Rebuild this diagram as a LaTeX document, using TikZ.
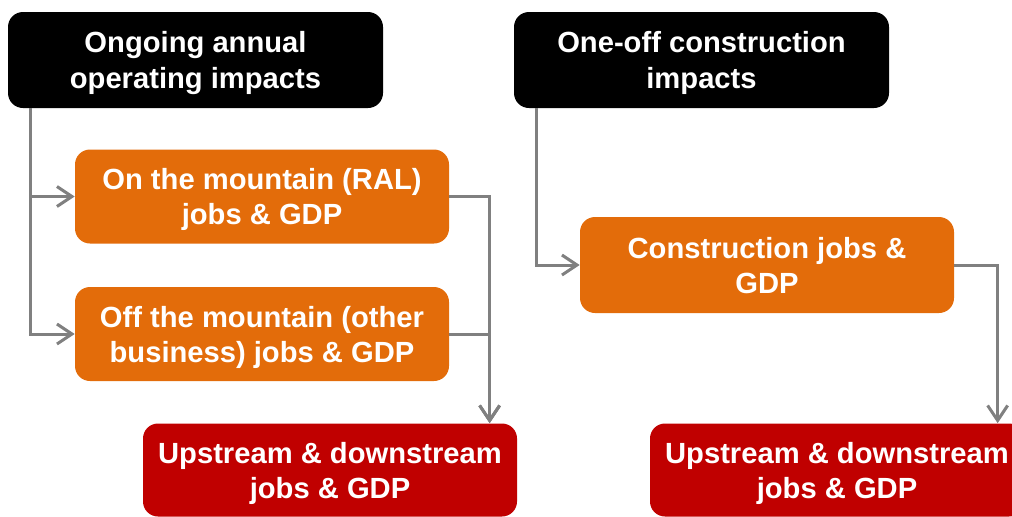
\documentclass[tikz,border=0pt]{standalone}
\usepackage{fontspec}
\setmainfont{Liberation Sans}
\usepackage{tikz}
\usetikzlibrary{arrows.meta,positioning,calc}
\definecolor{ImpactBlack}{RGB}{0,0,0}
\definecolor{ImpactOrange}{RGB}{227,108,10}
\definecolor{ImpactRed}{RGB}{192,0,0}
\definecolor{LinkGray}{RGB}{128,128,128}

\begin{document}
\begin{tikzpicture}[box/.style={rounded corners=0.3cm,text=white,align=center,
 minimum width=7.48cm,minimum height=1.88cm,text depth=0pt,
 execute at begin node={\rule{0pt}{5.9mm}},
 font=\fontsize{16.6}{20}\selectfont\bfseries},
 head/.style={box,fill=ImpactBlack,minimum width=7.5cm,minimum height=1.92cm},
 driver/.style={box,fill=ImpactOrange},
 flowon/.style={box,fill=ImpactRed,minimum height=1.86cm},
 link/.style={draw=LinkGray,line width=0.06cm,
 -{Straight Barb[length=0.3cm,width=0.4cm,line width=0.06cm]}}]
\useasboundingbox (0,0) rectangle (20.24,10.32);

% column headings
\node[head] (ongoing) at (3.91,9.12) {Ongoing annual\\operating impacts};
\node[head] (oneoff) at (14.03,9.12) {One-off construction\\impacts};

% direct impacts
\node[driver] (onmtn) at (5.24,6.39) {On the mountain (RAL)\\jobs \& GDP};
\node[driver] (offmtn) at (5.24,3.64) {Off the mountain (other\\business) jobs \& GDP};
\node[driver,minimum height=1.92cm] (constr) at (15.34,5.02) {Construction jobs \&\\GDP};

% flow-on impacts
\foreach \nm/\x in {upleft/6.60,upright/16.74}
 \node[flowon] (\nm) at (\x,0.92) {Upstream \& downstream\\jobs \& GDP};

\coordinate (joinL) at ($(upleft.north west)+(6.94,0)$);
\coordinate (joinR) at ($(upright.north west)+(6.96,0)$);

% connectors
\draw[link] ($(ongoing.south west)+(0.46,0)$) |- (onmtn.west);
\draw[link] ($(ongoing.south west)+(0.46,0)$) |- (offmtn.west);
\draw[link] (onmtn.east) -| (joinL);
\draw[link] (offmtn.east) -| (joinL);
\draw[link] ($(oneoff.south west)+(0.46,0)$) |- (constr.west);
\draw[link] (constr.east) -| (joinR);
\end{tikzpicture}
\end{document}
